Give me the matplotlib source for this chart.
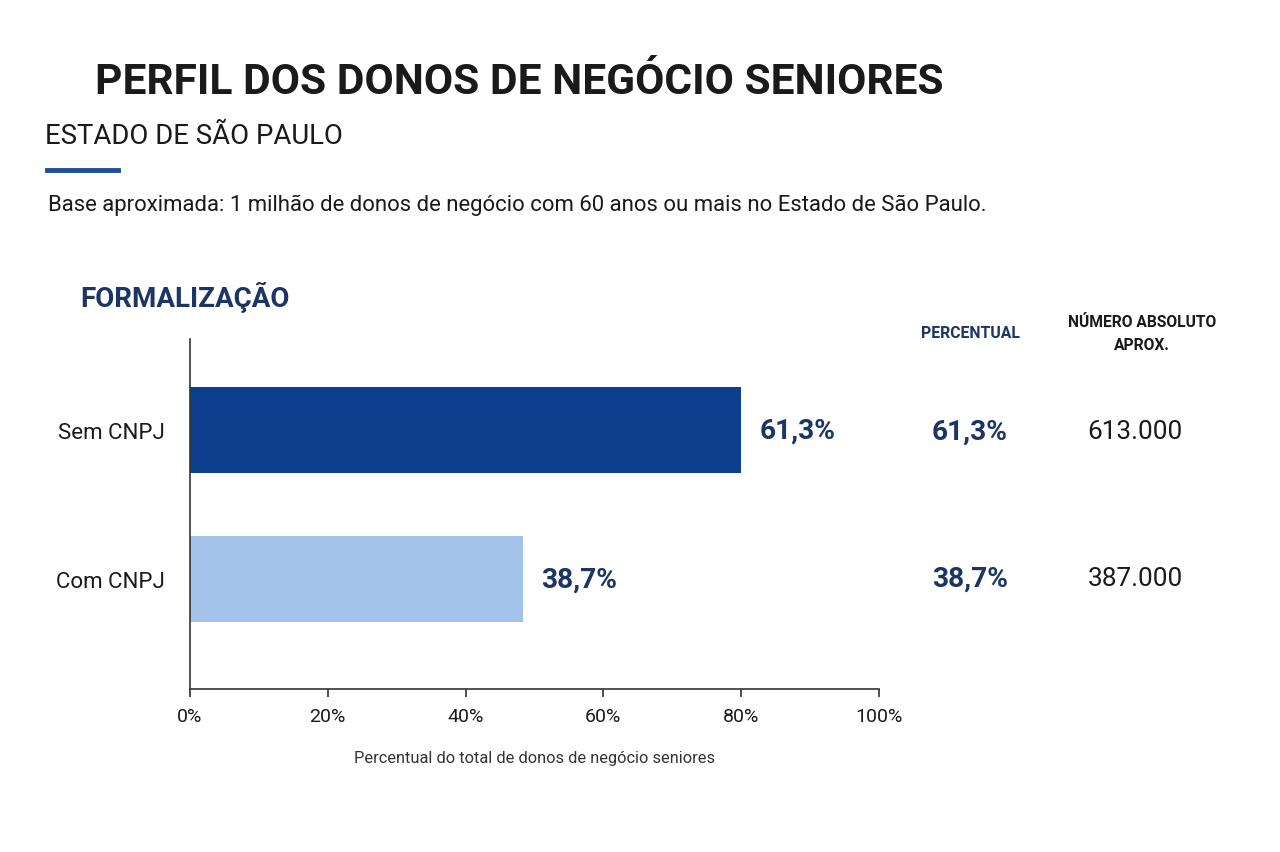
import matplotlib
matplotlib.use("Agg")
import matplotlib.pyplot as plt
from matplotlib.lines import Line2D

plt.rcParams['font.family'] = ['Roboto', 'DejaVu Sans']

# dados
categorias = ["Com CNPJ", "Sem CNPJ"]
comprimento_barras = [48.3, 80.0]   # comprimento desenhado das barras (%)
rotulos_pct = ["38,7%", "61,3%"]
numero_absoluto = ["387.000", "613.000"]
xticks = [0, 20, 40, 60, 80, 100]

AZUL_ESCURO = "#0d3f8f"
AZUL_CLARO = "#a3c2e9"
NAVY = "#1c3565"
PRETO = "#1a1a1a"

W, H = 1280, 853
fig = plt.figure(figsize=(12.8, 8.53), dpi=100)
renderer = fig.canvas.get_renderer()


def px(x, y):
    return x / W, 1 - y / H


def ajusta(t, largura, maximo):
    # reduz a fonte ate o texto caber na largura (px) do original
    t.set_fontsize(maximo)
    w = t.get_window_extent(renderer).width
    if w > largura:
        t.set_fontsize(maximo * largura / w)
    return t


ax = fig.add_axes([190 / W, 1 - 690 / H, 689 / W, 350 / H])
ypos = [0, 1]
ax.barh(ypos, comprimento_barras, height=0.577,
        color=[AZUL_CLARO, AZUL_ESCURO])
ax.set_xlim(0, 100)
ax.set_ylim(-0.738, 1.611)
ax.set_xticks(xticks)
ax.set_xticklabels([f"{v}%" for v in xticks], fontsize=14, color=PRETO)
ax.set_yticks(ypos)
ax.set_yticklabels(categorias, fontsize=16, color=PRETO)
ax.tick_params(axis="y", length=0, pad=18)
ax.tick_params(axis="x", length=6, width=1.2, color="#333333", pad=7)
for s in ["top", "right"]:
    ax.spines[s].set_visible(False)
for s in ["left", "bottom"]:
    ax.spines[s].set_color("#333333")
    ax.spines[s].set_linewidth(1.2)
ax.set_xlabel("Percentual do total de donos de negócio seniores",
              fontsize=11.8, color="#333333", labelpad=18)

for y, comp, rot in zip(ypos, comprimento_barras, rotulos_pct):
    t = ax.text(comp + 2.7, y, rot, va="center", ha="left",
                fontweight="bold", color=NAVY)
    ajusta(t, 76, 24)

# textos do topo
ajusta(fig.text(*px(95, 83), "PERFIL DOS DONOS DE NEGÓCIO SENIORES",
                fontweight="bold", color=PRETO, va="center", ha="left"), 850, 44)
ajusta(fig.text(*px(45, 137), "ESTADO DE SÃO PAULO", color=PRETO,
                va="center", ha="left"), 298, 23)
fig.add_artist(Line2D([47 / W, 118 / W], [1 - 171 / H, 1 - 171 / H],
                      color="#1f4e99", linewidth=3.5))
ajusta(fig.text(*px(48, 205),
                "Base aproximada: 1 milhão de donos de negócio com 60 anos ou mais no Estado de São Paulo.",
                color=PRETO, va="center", ha="left"), 940, 17)
ajusta(fig.text(*px(80, 297), "FORMALIZAÇÃO", fontweight="bold",
                color=NAVY, va="center", ha="left"), 210, 24)

# tabela lateral
ajusta(fig.text(*px(970, 334), "PERCENTUAL", fontweight="bold",
                color=NAVY, va="center", ha="center"), 98, 13)
ajusta(fig.text(*px(1142, 334), "NÚMERO ABSOLUTO\nAPROX.",
                fontweight="bold", color=PRETO, va="center", ha="center",
                linespacing=1.6), 148, 13)
linhas_y = {1: 432, 0: 579}
for y, rot, num in zip(ypos, rotulos_pct, numero_absoluto):
    ajusta(fig.text(*px(970, linhas_y[y]), rot, fontweight="bold",
                    color=NAVY, va="center", ha="center"), 76, 24)
    ajusta(fig.text(*px(1135, linhas_y[y]), num, color=PRETO,
                    va="center", ha="center"), 95, 22)

fig.savefig("out.png", dpi=100, facecolor="white")
